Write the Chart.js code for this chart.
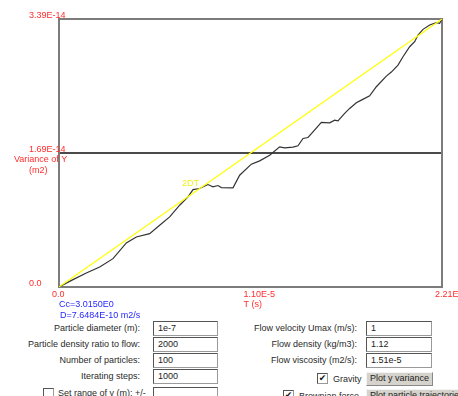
<!DOCTYPE html>
<html>
<head>
<meta charset="utf-8">
<script src="https://cdn.jsdelivr.net/npm/chart.js@4/dist/chart.umd.min.js"></script>
<style>
  html, body { margin: 0; padding: 0; background: #fff; overflow: hidden; }
  body { width: 458px; height: 396px; position: relative; font-family: "Liberation Sans", Arial, sans-serif; }
  #plot { position: absolute; left: 0; top: 0; }
  .lbl { position: absolute; font-size: 9px; color: #2a2a2a; white-space: nowrap; line-height: 11px; }
  .lbl.r { text-align: right; }
  .box { position: absolute; box-sizing: border-box; background: #fff; border: 1px solid #9a9a9a;
         border-top-color: #555; border-left-color: #555; font-size: 9px; color: #222;
         line-height: 12px; padding-left: 4px; white-space: nowrap; }
  .chk { position: absolute; box-sizing: border-box; width: 11px; height: 11px; background: #fff;
         border: 1px solid #999; border-top-color: #555; border-left-color: #555;
         font: 9px "DejaVu Sans", sans-serif; line-height: 9px; text-align: center; color: #111; }
  .btn { position: absolute; box-sizing: border-box; background: #d6d3cc; border: 1px solid #888;
         border-top-color: #f4f4f4; border-left-color: #f4f4f4; font-size: 9px; color: #222;
         line-height: 11px; padding-left: 3px; white-space: nowrap; overflow: hidden; }
</style>
</head>
<body>
<canvas id="plot" width="458" height="320"></canvas>

<div class="lbl r" style="right:318px; top:323px;">Particle diameter (m):</div>
<div class="box" style="left:153px; top:321px; width:65px; height:15px;">1e-7</div>
<div class="lbl r" style="right:318px; top:339px;">Particle density ratio to flow:</div>
<div class="box" style="left:153px; top:337px; width:65px; height:15px;">2000</div>
<div class="lbl r" style="right:318px; top:355px;">Number of particles:</div>
<div class="box" style="left:153px; top:353px; width:65px; height:15px;">100</div>
<div class="lbl r" style="right:318px; top:371px;">Iterating steps:</div>
<div class="box" style="left:153px; top:369px; width:65px; height:15px;">1000</div>
<div class="chk" style="left:43px; top:388px;"></div>
<div class="lbl" style="left:58px; top:388px;">Set range of y (m): +/-</div>
<div class="box" style="left:153px; top:387px; width:65px; height:15px;"></div>

<div class="lbl r" style="right:101px; top:323px;">Flow velocity Umax (m/s):</div>
<div class="box" style="left:366px; top:321px; width:66px; height:15px;">1</div>
<div class="lbl r" style="right:101px; top:339px;">Flow density (kg/m3):</div>
<div class="box" style="left:366px; top:337px; width:66px; height:15px;">1.12</div>
<div class="lbl r" style="right:101px; top:355px;">Flow viscosity (m2/s):</div>
<div class="box" style="left:366px; top:353px; width:66px; height:15px;">1.51e-5</div>
<div class="chk" style="left:317px; top:373px;">✔</div>
<div class="lbl" style="left:333px; top:374px;">Gravity</div>
<div class="btn" style="left:366px; top:372px; width:67px; height:14px;">Plot y variance</div>
<div class="chk" style="left:283px; top:390px;">✔</div>
<div class="lbl" style="left:299px; top:391px;">Brownian force</div>
<div class="btn" style="left:366px; top:389px; width:110px; height:14px;">Plot particle trajectories</div>

<script>
// Simulated variance of particle y-position over time (s, m2)
const timeValues = [
  0, 0.0808e-5, 0.1577e-5, 0.2347e-5, 0.3116e-5, 0.3885e-5, 0.4462e-5, 0.5231e-5,
  0.5808e-5, 0.6386e-5, 0.6963e-5, 0.7444e-5, 0.7732e-5, 0.8117e-5, 0.8597e-5,
  0.8886e-5, 0.9174e-5, 0.9366e-5, 1.0040e-5, 1.0425e-5, 1.1098e-5, 1.1579e-5,
  1.2156e-5, 1.2733e-5, 1.3021e-5, 1.3502e-5, 1.3790e-5, 1.4080e-5, 1.4368e-5,
  1.4656e-5, 1.5137e-5, 1.5618e-5, 1.5907e-5, 1.6099e-5, 1.6484e-5, 1.6772e-5,
  1.7157e-5, 1.7446e-5, 1.7926e-5, 1.8311e-5, 1.8888e-5, 1.9176e-5, 1.9561e-5,
  1.9850e-5, 2.0234e-5, 2.0523e-5, 2.0715e-5, 2.1004e-5, 2.1389e-5, 2.1773e-5,
  2.1965e-5, 2.21e-5
];
const varianceValues = [
  0, 0.0929e-14, 0.1773e-14, 0.2533e-14, 0.3588e-14, 0.5573e-14, 0.6332e-14, 0.6755e-14,
  0.7810e-14, 0.8866e-14, 1.0343e-14, 1.1398e-14, 1.2327e-14, 1.2454e-14, 1.2960e-14,
  1.2665e-14, 1.2834e-14, 1.2581e-14, 1.2539e-14, 1.4143e-14, 1.5536e-14, 1.5958e-14,
  1.6676e-14, 1.7731e-14, 1.7604e-14, 1.7689e-14, 1.7858e-14, 1.8787e-14, 1.8913e-14,
  1.9631e-14, 2.0813e-14, 2.0771e-14, 2.1109e-14, 2.1024e-14, 2.1953e-14, 2.2586e-14,
  2.3304e-14, 2.3641e-14, 2.4190e-14, 2.5330e-14, 2.6680e-14, 2.7187e-14, 2.8073e-14,
  2.9129e-14, 3.0396e-14, 3.1029e-14, 3.1874e-14, 3.2592e-14, 3.3140e-14, 3.3436e-14,
  3.3351e-14, 3.39e-14
];
// Theoretical 2DT line
const theoryTime = [0, 2.21e-5];
const theoryVariance = [0, 3.39e-14];
const theoryLabel = '2DT';

// Axis ticks
const xTickValues = [0, 1.105e-5, 2.21e-5];
const xTickLabels = ['0.0', '1.10E-5', '2.21E-5'];
const yTickValues = [0, 1.695e-14, 3.39e-14];
const yTickLabels = ['0.0', '1.69E-14', '3.39E-14'];
const xTitle = 'T (s)';
const yTitleLines = ['Variance of Y', '(m2)'];
const infoLines = ['Cc=3.0150E0', 'D=7.6484E-10 m2/s'];

const FONT = '9px "Liberation Sans", Arial, sans-serif';
const RED = 'rgb(255,45,45)';
const BLUE = 'rgb(40,40,255)';
const LABEL_AT = { t: 0.71e-5, v: 1.315e-14 };

const framePlugin = {
  id: 'frame',
  beforeDatasetsDraw(chart) {
    const { ctx, chartArea: a, scales: { x, y } } = chart;
    ctx.save();
    // mid gridline
    ctx.strokeStyle = '#4a4a4a';
    ctx.lineWidth = 2;
    const ym = y.getPixelForValue(yTickValues[1]);
    ctx.beginPath(); ctx.moveTo(a.left, ym); ctx.lineTo(a.right, ym); ctx.stroke();
    // frame
    ctx.strokeStyle = '#7c7c7c';
    ctx.lineWidth = 2;
    ctx.strokeRect(a.left, a.top, a.right - a.left, a.bottom - a.top);
    ctx.restore();
  },
  afterDraw(chart) {
    const { ctx, chartArea: a, scales: { x, y } } = chart;
    ctx.save();
    ctx.font = FONT;
    ctx.textBaseline = 'alphabetic';
    ctx.textAlign = 'left';
    ctx.fillStyle = RED;
    yTickValues.forEach((v, i) => {
      ctx.fillText(yTickLabels[i], a.left - 30, y.getPixelForValue(v) - 1);
    });
    const ym = y.getPixelForValue(yTickValues[1]);
    ctx.fillText(yTitleLines[0], a.left - 45, ym + 9);
    ctx.fillText(yTitleLines[1], a.left - 30, ym + 20);
    xTickValues.forEach((v, i) => {
      ctx.fillText(xTickLabels[i], x.getPixelForValue(v) - 7, a.bottom + 10);
    });
    ctx.fillText(xTitle, x.getPixelForValue(xTickValues[1]) - 7, a.bottom + 20);
    ctx.fillStyle = BLUE;
    ctx.fillText(infoLines[0], a.left, a.bottom + 20);
    ctx.fillText(infoLines[1], a.left + 1, a.bottom + 31);
    ctx.fillStyle = '#f0f020';
    ctx.fillText(theoryLabel, x.getPixelForValue(LABEL_AT.t), y.getPixelForValue(LABEL_AT.v) + 3);
    ctx.restore();
  }
};

new Chart(document.getElementById('plot'), {
  type: 'line',
  data: {
    datasets: [
      {
        data: theoryTime.map((t, i) => ({ x: t, y: theoryVariance[i] })),
        borderColor: '#ffff00',
        borderWidth: 1.2,
        pointRadius: 0,
        tension: 0
      },
      {
        data: timeValues.map((t, i) => ({ x: t, y: varianceValues[i] })),
        borderColor: '#333333',
        borderWidth: 1.2,
        pointRadius: 0,
        tension: 0
      }
    ]
  },
  options: {
    responsive: false,
    animation: false,
    devicePixelRatio: 1,
    layout: { padding: { left: 59, right: 16, top: 19, bottom: 33 } },
    plugins: { legend: { display: false }, tooltip: { enabled: false } },
    scales: {
      x: { type: 'linear', min: 0, max: 2.21e-5, display: false },
      y: { type: 'linear', min: 0, max: 3.39e-14, display: false }
    }
  },
  plugins: [framePlugin]
});
</script>
</body>
</html>
